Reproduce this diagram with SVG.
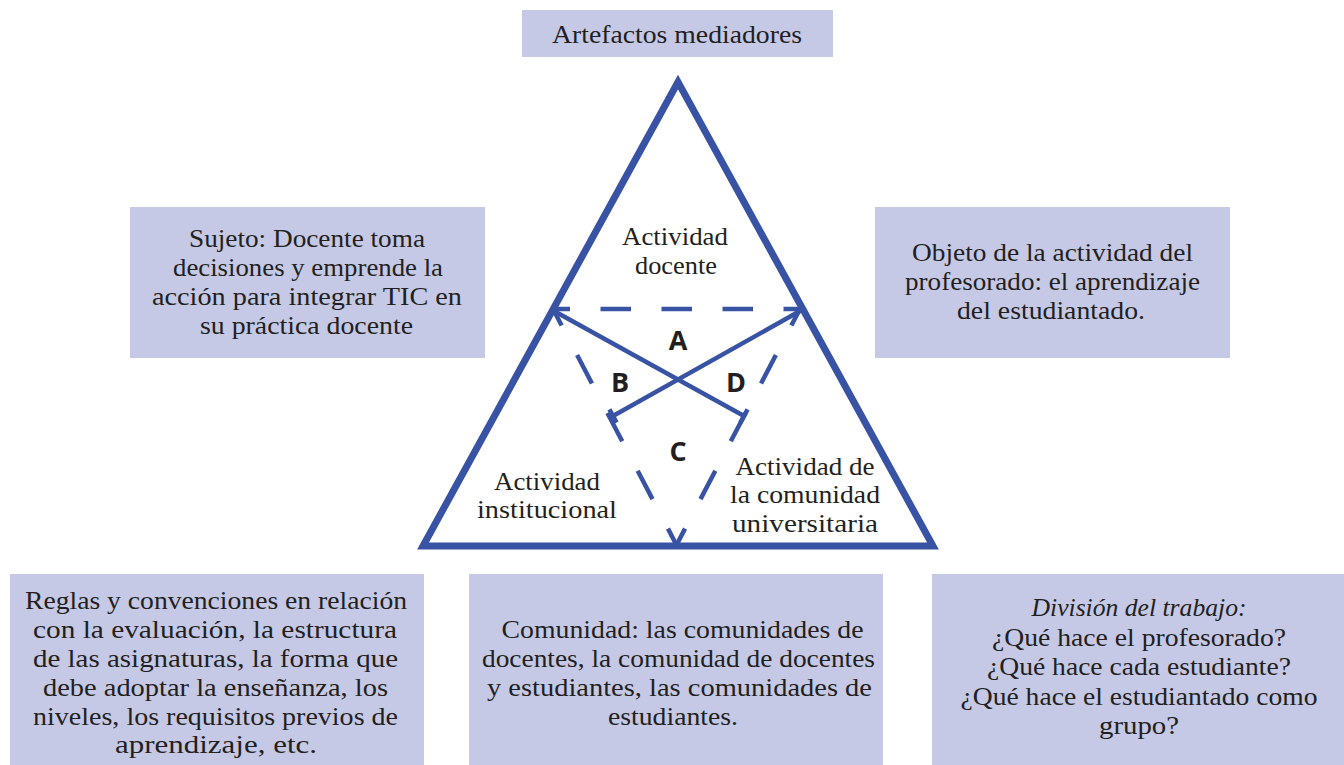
<svg xmlns="http://www.w3.org/2000/svg" width="1344" height="765" viewBox="0 0 1344 765">
<style>
  .box { fill: #c5c9e6; }
  .t { font-family: "Liberation Serif", "DejaVu Serif", serif; font-size: 25px; fill: #231f20; text-anchor: middle; }
  .it { font-style: italic; }
  .lbl { font-family: "Open Sans", "Liberation Sans", sans-serif; font-weight: bold; font-size: 27px; fill: #231f20; text-anchor: middle; }
  .tri { fill: none; stroke: #3953a4; stroke-width: 7; stroke-linejoin: miter; stroke-miterlimit: 10; }
  .solid { fill: none; stroke: #3953a4; stroke-width: 4.5; }
  .dash-h { fill: none; stroke: #3953a4; stroke-width: 4.5; stroke-dasharray: 30.5 30.5; stroke-dashoffset: 13.5; }
  .dash-d { fill: none; stroke: #3953a4; stroke-width: 4.5; stroke-dasharray: 32 33.3; stroke-dashoffset: 13.3; }
</style>
<rect width="1344" height="765" fill="#ffffff"/>

<g id="triangle">
  <polygon class="tri" points="678,82 423,546 933,546"/>
</g>

<g id="connectors">
  <path class="dash-h" d="M553,309 L800,309"/>
  <path class="dash-d" d="M553,309 L676.5,545"/>
  <path class="dash-d" d="M800,309 L676.5,545"/>
  <path class="solid" d="M554,311 L744,416"/>
  <path class="solid" d="M800,311 L613,416"/>
  <path class="solid" d="M747.6,409.4 L740.4,422.6"/>
  <path class="solid" d="M609.4,409.4 L616.6,422.6"/>
</g>

<g id="node-artefactos">
  <rect class="box" x="522" y="10" width="311" height="47"/>
  <text class="t" x="677" y="43" textLength="250" lengthAdjust="spacingAndGlyphs">Artefactos mediadores</text>
</g>

<g id="node-sujeto">
  <rect class="box" x="130" y="207" width="355" height="151"/>
  <text class="t" x="307" y="247" textLength="236" lengthAdjust="spacingAndGlyphs">Sujeto: Docente toma</text>
  <text class="t" x="308" y="276" textLength="270" lengthAdjust="spacingAndGlyphs">decisiones y emprende la</text>
  <text class="t" x="307" y="305" textLength="310" lengthAdjust="spacingAndGlyphs">acción para integrar TIC en</text>
  <text class="t" x="306.5" y="334" textLength="213" lengthAdjust="spacingAndGlyphs">su práctica docente</text>
</g>

<g id="node-objeto">
  <rect class="box" x="875" y="207" width="355" height="151"/>
  <text class="t" x="1052.5" y="261" textLength="281" lengthAdjust="spacingAndGlyphs">Objeto de la actividad del</text>
  <text class="t" x="1052.5" y="290" textLength="295" lengthAdjust="spacingAndGlyphs">profesorado: el aprendizaje</text>
  <text class="t" x="1051" y="319" textLength="188" lengthAdjust="spacingAndGlyphs">del estudiantado.</text>
</g>

<g id="node-actividad-docente">
  <text class="t" x="675" y="245" textLength="106" lengthAdjust="spacingAndGlyphs">Actividad</text>
  <text class="t" x="676" y="274" textLength="82" lengthAdjust="spacingAndGlyphs">docente</text>
</g>

<g id="node-actividad-institucional">
  <text class="t" x="547" y="490" textLength="106" lengthAdjust="spacingAndGlyphs">Actividad</text>
  <text class="t" x="547" y="518" textLength="140" lengthAdjust="spacingAndGlyphs">institucional</text>
</g>

<g id="node-actividad-comunidad">
  <text class="t" x="805" y="475" textLength="139" lengthAdjust="spacingAndGlyphs">Actividad de</text>
  <text class="t" x="805" y="503" textLength="150" lengthAdjust="spacingAndGlyphs">la comunidad</text>
  <text class="t" x="805" y="532" textLength="146" lengthAdjust="spacingAndGlyphs">universitaria</text>
</g>

<g id="labels">
  <text class="lbl" x="678" y="350">A</text>
  <text class="lbl" x="620" y="392">B</text>
  <text class="lbl" x="678" y="461">C</text>
  <text class="lbl" x="736" y="392">D</text>
</g>

<g id="node-reglas">
  <rect class="box" x="10" y="574" width="414" height="191"/>
  <text class="t" x="216" y="609" textLength="382" lengthAdjust="spacingAndGlyphs">Reglas y convenciones en relación</text>
  <text class="t" x="215" y="638" textLength="364" lengthAdjust="spacingAndGlyphs">con la evaluación, la estructura</text>
  <text class="t" x="215.5" y="667" textLength="365" lengthAdjust="spacingAndGlyphs">de las asignaturas, la forma que</text>
  <text class="t" x="215.5" y="696" textLength="345" lengthAdjust="spacingAndGlyphs">debe adoptar la enseñanza, los</text>
  <text class="t" x="215.5" y="725" textLength="365" lengthAdjust="spacingAndGlyphs">niveles, los requisitos previos de</text>
  <text class="t" x="216" y="753" textLength="202" lengthAdjust="spacingAndGlyphs">aprendizaje, etc.</text>
</g>

<g id="node-comunidad">
  <rect class="box" x="469" y="574" width="414" height="191"/>
  <text class="t" x="682.5" y="638" textLength="362" lengthAdjust="spacingAndGlyphs">Comunidad: las comunidades de</text>
  <text class="t" x="678.5" y="667" textLength="393" lengthAdjust="spacingAndGlyphs">docentes, la comunidad de docentes</text>
  <text class="t" x="679.5" y="696" textLength="385" lengthAdjust="spacingAndGlyphs">y estudiantes, las comunidades de</text>
  <text class="t" x="673" y="725" textLength="130" lengthAdjust="spacingAndGlyphs">estudiantes.</text>
</g>

<g id="node-division">
  <rect class="box" x="932" y="574" width="412" height="191"/>
  <text class="t it" x="1139" y="616" textLength="215" lengthAdjust="spacingAndGlyphs">División del trabajo:</text>
  <text class="t" x="1139" y="645.5" textLength="294" lengthAdjust="spacingAndGlyphs">¿Qué hace el profesorado?</text>
  <text class="t" x="1139" y="675" textLength="304" lengthAdjust="spacingAndGlyphs">¿Qué hace cada estudiante?</text>
  <text class="t" x="1139" y="704.5" textLength="357" lengthAdjust="spacingAndGlyphs">¿Qué hace el estudiantado como</text>
  <text class="t" x="1139" y="734" textLength="80" lengthAdjust="spacingAndGlyphs">grupo?</text>
</g>
</svg>
